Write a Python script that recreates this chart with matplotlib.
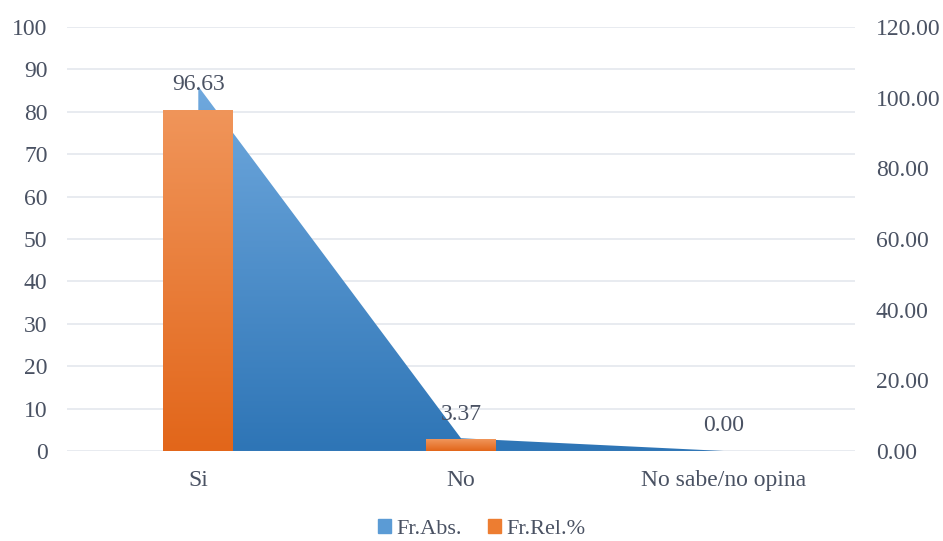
import numpy as np
import matplotlib.pyplot as plt
from matplotlib.colors import LinearSegmentedColormap
from matplotlib.patches import Patch

categorias = ["Si", "No", "No sabe/no opina"]
fr_abs = [86, 3, 0]
fr_rel = [96.63, 3.37, 0.00]
ticks_izq = list(range(0, 101, 10))
ticks_der = [0, 20, 40, 60, 80, 100, 120]

plt.rcParams['font.family'] = ['Liberation Serif', 'DejaVu Serif']
texto = '#4a5263'

fig = plt.figure(figsize=(9.43, 5.41), dpi=100)
ax = fig.add_axes([0.071, 0.1664, 0.8357, 0.7837])
ax2 = ax.twinx()
x = np.arange(len(categorias))

# area Fr.Abs. con degradado vertical
area = ax.fill_between(x, fr_abs, 0, color='none', lw=0, zorder=1)
cmap_azul = LinearSegmentedColormap.from_list('azul', ['#2e75b6', '#70a9de'])
grad = np.linspace(0, 1, 256).reshape(-1, 1)
im = ax.imshow(grad, cmap=cmap_azul, origin='lower', aspect='auto',
               extent=[x[0], x[-1], 0, max(fr_abs)], zorder=1)
im.set_clip_path(area.get_paths()[0], ax.transData)

# barras Fr.Rel.% con degradado
cmap_nar = LinearSegmentedColormap.from_list('nar', ['#e2661a', '#f0955a'])
barras = ax2.bar(x, fr_rel, width=0.266, color='#ed7d31', lw=0, zorder=2)
for b in barras:
    if b.get_height() > 0:
        imb = ax2.imshow(grad, cmap=cmap_nar, origin='lower', aspect='auto',
                         extent=[b.get_x(), b.get_x() + b.get_width(), 0, b.get_height()],
                         zorder=3)
        imb.set_clip_path(b)

for i, v in enumerate(fr_rel):
    ax2.annotate(f"{v:.2f}", (x[i], v), xytext=(0, 18), textcoords='offset points',
                 ha='center', va='center', fontsize=17, color=texto, zorder=4)

ax.set_xlim(-0.5, 2.5)
ax.set_ylim(0, 100)
ax2.set_ylim(0, 120)
ax.set_yticks(ticks_izq)
ax2.set_yticks(ticks_der)
ax2.set_yticklabels([f"{t:.2f}" for t in ticks_der])
ax.set_xticks(x)
ax.set_xticklabels(categorias)

ax.grid(axis='y', color='#e4e8ee', lw=1.2)
ax.set_axisbelow(True)
for a in (ax, ax2):
    for s in a.spines.values():
        s.set_visible(False)
ax.tick_params(axis='x', length=0, pad=14, labelsize=17, labelcolor=texto)
ax.tick_params(axis='y', length=0, pad=14, labelsize=17, labelcolor=texto)
ax2.tick_params(axis='y', length=0, pad=15, labelsize=17, labelcolor=texto)

handles = [Patch(color='#5b9bd5'), Patch(color='#ed7d31')]
fig.legend(handles, ['Fr.Abs.', 'Fr.Rel.%'], loc='center', bbox_to_anchor=(0.511, 0.022),
           ncol=2, frameon=False, fontsize=16, handlelength=0.55, handleheight=0.55,
           handletextpad=0.25, columnspacing=1.2, labelcolor=texto)

fig.savefig("out.png", dpi=100)
